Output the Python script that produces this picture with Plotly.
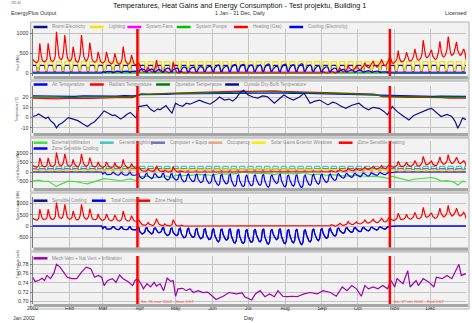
import pandas as pd
import plotly.graph_objects as go

W, H = 472, 323
FONT = "Liberation Sans, Arial, sans-serif"

# ---------------- data ----------------
dates = pd.date_range("2002-01-01", "2002-12-31", freq="D")
month_ticks = pd.date_range("2002-01-01", "2002-12-01", freq="MS")
month_labels = ["2002", "Feb", "Mar", "Apr", "May", "Jun", "Jul", "Aug", "Sep", "Oct", "Nov", "Dec"]

heating = [
    340,300,280,260,270,330,
    740,480,330,290,280,300,360, 740,500,340,300,290,330,420,
    1030,640,420,360,330,380,560, 950,600,400,330,300,310,380,
    660,440,320,280,270,330,480, 950,620,410,340,300,330,430,
    760,480,330,290,270,280,330, 530,380,290,260,250,270,320,
    530,370,280,250,230,250,300, 490,340,260,230,220,250,330,
    660,420,300,250,220,230,280, 450,310,240,210,200,220,260,
    180,100,60,40,30,40,80, 150,80,50,30,20,60,150,
    320,180,90,50,30,20,30, 90,40,20,10,10,20,60,
    280,150,60,20,10,0,10, 40,10,0,0,0,0,10,
    30,10,0,0,0,0,0,
    0,0,0,0,0,0,0, 0,0,0,0,0,0,0, 0,0,0,0,0,0,0,
    0,0,0,0,0,0,0, 0,0,0,0,0,0,0, 0,0,0,0,0,0,0,
    0,0,0,0,0,0,0, 0,0,0,0,0,0,0, 0,0,0,0,0,0,0,
    0,0,0,0,0,0,0, 0,0,0,0,0,0,0, 0,0,0,0,0,0,0,
    0,0,0,0,0,0,0, 0,0,0,0,0,0,0, 0,0,0,0,0,0,0,
    30,10,0,0,0,0,20, 60,30,10,0,10,30,60,
    120,70,40,30,40,60,100, 200,120,80,70,60,90,130,
    180,120,100,90,110,140,180, 260,180,140,130,150,190,230,
    300,210,170,150,160,200,260, 340,240,200,180,200,260,320,
    430,300,250,240,260,300,350, 560,380,300,280,290,320,380,
    520,380,320,300,310,350,420, 600,420,340,320,330,380,480,
    820,560,420,380,400,450,520, 580,420,360,340,350,420,560,
    790,560,440,400,420,480,600, 910,640,500,440,460,520,620,
    780,560,480,440,460,520,600,
    520,330,
]

total_cooling = [
    0,0,0,0,0,0,
    0,0,0,0,0,0,0, 0,0,0,0,0,0,0, 0,0,0,0,0,0,0, 0,0,0,0,0,0,0,
    0,0,0,0,0,0,0, 0,0,0,0,0,0,0, 0,0,0,0,0,0,0,
    0,0,0,0,-110,-40,-30,
    -120,-140,-150,-130,-120,-40,-30, -110,-130,-150,-160,-130,-50,-40,
    -130,-150,-170,-160,-140,-50,-40, -140,-160,-180,-170,-150,-60,-50,
    -250,-300,-350,-320,-280,-100,-80, -220,-280,-330,-350,-300,-110,-90,
    -200,-260,-300,-280,-250,-90,-70, -300,-380,-420,-400,-350,-120,-90,
    -280,-350,-400,-420,-380,-130,-100, -350,-450,-520,-500,-420,-140,-100,
    -320,-420,-480,-500,-450,-150,-110, -380,-500,-560,-540,-480,-160,-120,
    -400,-520,-600,-580,-500,-170,-120, -420,-560,-650,-700,-620,-180,-130,
    -380,-520,-600,-620,-560,-170,-120, -450,-600,-720,-750,-650,-200,-140,
    -480,-620,-740,-760,-680,-220,-150, -450,-600,-700,-720,-640,-200,-140,
    -400,-560,-660,-700,-620,-190,-130, -480,-640,-760,-800,-700,-220,-150,
    -350,-480,-560,-600,-540,-170,-120, -460,-620,-740,-780,-680,-210,-150,
    -420,-580,-700,-740,-650,-200,-140, -480,-640,-780,-820,-720,-220,-160,
    -400,-560,-660,-700,-620,-190,-130, -360,-500,-600,-640,-560,-170,-120,
    -320,-440,-520,-540,-480,-150,-100, -260,-360,-420,-440,-380,-120,-90,
    -200,-260,-300,-320,-280,-100,-80, -160,-220,-260,-280,-240,-90,-70,
    -150,-200,-240,-250,-220,-80,-60, -120,-170,-200,-210,-180,-70,-50,
    -100,-140,-170,-180,-150,-60,-40, -80,-110,-130,-140,-110,-40,-20,
    -30,-20,-10,0,0,0,0,
    0,0,0,0,0,0,0, 0,0,0,0,0,0,0, 0,0,0,0,0,0,0, 0,0,0,0,0,0,0,
    0,0,0,0,0,0,0, 0,0,0,0,0,0,0, 0,0,0,0,0,0,0, 0,0,0,0,0,0,0,
    0,0,
]

cooling_elec = [
    0,0,0,0,0,0,
    0,0,0,0,0,0,0, 0,0,0,0,0,0,0, 0,0,0,0,0,0,0, 0,0,0,0,0,0,0,
    0,0,0,0,0,0,0, 0,0,0,0,0,0,0, 0,0,0,0,0,0,0,
    0,0,0,0,30,10,10,
    35,40,45,40,35,10,10, 30,40,45,45,40,15,10,
    40,45,50,45,40,15,10, 40,45,50,50,45,20,15,
    70,85,100,90,80,30,20, 60,80,95,100,85,30,25,
    55,75,85,80,70,25,20, 85,110,120,115,100,35,25,
    80,100,115,120,110,35,30, 100,130,150,145,120,40,30,
    90,120,140,145,130,45,30, 110,145,160,155,140,45,35,
    115,150,170,165,145,50,35, 120,160,185,200,175,50,35,
    110,150,170,175,160,50,35, 130,170,205,215,185,55,40,
    135,175,210,215,195,60,45, 130,170,200,205,180,55,40,
    115,160,190,200,175,55,35, 135,180,215,225,200,60,45,
    100,135,160,170,155,50,35, 130,175,210,220,195,60,45,
    120,165,200,210,185,55,40, 135,180,220,230,205,60,45,
    115,160,190,200,175,55,35, 100,140,170,180,160,50,35,
    90,125,150,155,135,45,30, 75,100,120,125,110,35,25,
    55,75,85,90,80,30,25, 45,60,75,80,70,25,20,
    45,55,70,70,65,25,20, 35,50,55,60,50,20,15,
    30,40,50,50,45,15,10, 25,30,35,40,30,10,5,
    10,5,0,0,0,0,0,
    0,0,0,0,0,0,0, 0,0,0,0,0,0,0, 0,0,0,0,0,0,0, 0,0,0,0,0,0,0,
    0,0,0,0,0,0,0, 0,0,0,0,0,0,0, 0,0,0,0,0,0,0, 0,0,0,0,0,0,0,
    0,0,
]

room_electricity = [
    190,190,190,190,40,40,
    190,190,190,190,190,40,40, 190,190,190,190,190,40,40, 190,190,190,190,190,40,40, 190,190,190,190,190,40,40,
    190,190,190,190,190,40,40, 190,190,190,190,190,40,40, 190,190,190,190,190,40,40, 190,190,190,190,190,40,40,
    190,190,190,190,190,40,40, 190,190,190,190,190,40,40, 190,190,190,190,190,40,40, 190,190,190,190,190,40,40,
    190,190,190,190,190,40,40, 190,190,190,190,190,40,40, 190,190,190,190,190,40,40, 190,190,190,190,190,40,40,
    190,190,190,190,190,40,40, 190,190,190,190,190,40,40, 190,190,190,190,190,40,40, 190,190,190,190,190,40,40,
    190,190,190,190,190,40,40, 190,190,190,190,190,40,40, 190,190,190,190,190,40,40, 190,190,190,190,190,40,40,
    190,190,190,190,190,40,40, 190,190,190,190,190,40,40, 190,190,190,190,190,40,40, 190,190,190,190,190,40,40,
    190,190,190,190,190,40,40, 190,190,190,190,190,40,40, 190,190,190,190,190,40,40, 190,190,190,190,190,40,40,
    190,190,190,190,190,40,40, 190,190,190,190,190,40,40, 190,190,190,190,190,40,40, 190,190,190,190,190,40,40,
    190,190,190,190,190,40,40, 190,190,190,190,190,40,40, 190,190,190,190,190,40,40, 190,190,190,190,190,40,40,
    190,190,190,190,190,40,40, 190,190,190,190,190,40,40, 190,190,190,190,190,40,40, 190,190,190,190,190,40,40,
    190,190,190,190,190,40,40, 190,190,190,190,190,40,40, 190,190,190,190,190,40,40, 190,190,190,190,190,40,40,
    190,190,190,190,190,40,40, 190,190,190,190,190,40,40, 190,190,190,190,190,40,40,
    190,190,
]

lighting = [
    285,285,285,285,60,60,
    285,285,285,285,285,60,60, 285,285,285,285,285,60,60, 285,285,285,285,285,60,60, 285,285,285,285,285,60,60,
    285,285,285,285,285,60,60, 285,285,285,285,285,60,60, 285,285,285,285,285,60,60, 285,285,285,285,285,60,60,
    285,285,285,285,285,60,60, 285,285,285,285,285,60,60, 285,285,285,285,285,60,60, 285,285,285,285,285,60,60,
    285,285,285,285,285,60,60, 285,285,285,285,285,60,60, 285,285,285,285,285,60,60, 285,285,285,285,285,60,60,
    285,285,285,285,285,60,60, 285,285,285,285,285,60,60, 285,285,285,285,285,60,60, 285,285,285,285,285,60,60,
    285,285,285,285,285,60,60, 285,285,285,285,285,60,60, 285,285,285,285,285,60,60, 285,285,285,285,285,60,60,
    285,285,285,285,285,60,60, 285,285,285,285,285,60,60, 285,285,285,285,285,60,60, 285,285,285,285,285,60,60,
    285,285,285,285,285,60,60, 285,285,285,285,285,60,60, 285,285,285,285,285,60,60, 285,285,285,285,285,60,60,
    285,285,285,285,285,60,60, 285,285,285,285,285,60,60, 285,285,285,285,285,60,60, 285,285,285,285,285,60,60,
    285,285,285,285,285,60,60, 285,285,285,285,285,60,60, 285,285,285,285,285,60,60, 285,285,285,285,285,60,60,
    285,285,285,285,285,60,60, 285,285,285,285,285,60,60, 285,285,285,285,285,60,60, 285,285,285,285,285,60,60,
    285,285,285,285,285,60,60, 285,285,285,285,285,60,60, 285,285,285,285,285,60,60, 285,285,285,285,285,60,60,
    285,285,285,285,285,60,60, 285,285,285,285,285,60,60, 285,285,285,285,285,60,60,
    285,285,
]

general_lighting = [
    300,300,300,300,100,100,
    300,300,300,300,300,100,100, 300,300,300,300,300,100,100, 300,300,300,300,300,100,100, 300,300,300,300,300,100,100,
    300,300,300,300,300,100,100, 300,300,300,300,300,100,100, 300,300,300,300,300,100,100, 300,300,300,300,300,100,100,
    300,300,300,300,300,100,100, 300,300,300,300,300,100,100, 300,300,300,300,300,100,100, 300,300,300,300,300,100,100,
    300,300,300,300,300,100,100, 300,300,300,300,300,100,100, 300,300,300,300,300,100,100, 300,300,300,300,300,100,100,
    300,300,300,300,300,100,100, 300,300,300,300,300,100,100, 300,300,300,300,300,100,100, 300,300,300,300,300,100,100,
    300,300,300,300,300,100,100, 300,300,300,300,300,100,100, 300,300,300,300,300,100,100, 300,300,300,300,300,100,100,
    300,300,300,300,300,100,100, 300,300,300,300,300,100,100, 300,300,300,300,300,100,100, 300,300,300,300,300,100,100,
    300,300,300,300,300,100,100, 300,300,300,300,300,100,100, 300,300,300,300,300,100,100, 300,300,300,300,300,100,100,
    300,300,300,300,300,100,100, 300,300,300,300,300,100,100, 300,300,300,300,300,100,100, 300,300,300,300,300,100,100,
    300,300,300,300,300,100,100, 300,300,300,300,300,100,100, 300,300,300,300,300,100,100, 300,300,300,300,300,100,100,
    300,300,300,300,300,100,100, 300,300,300,300,300,100,100, 300,300,300,300,300,100,100, 300,300,300,300,300,100,100,
    300,300,300,300,300,100,100, 300,300,300,300,300,100,100, 300,300,300,300,300,100,100, 300,300,300,300,300,100,100,
    300,300,300,300,300,100,100, 300,300,300,300,300,100,100, 300,300,300,300,300,100,100,
    300,300,
]

computer_equip = [
    180,180,180,180,50,50,
    180,180,180,180,180,50,50, 180,180,180,180,180,50,50, 180,180,180,180,180,50,50, 180,180,180,180,180,50,50,
    180,180,180,180,180,50,50, 180,180,180,180,180,50,50, 180,180,180,180,180,50,50, 180,180,180,180,180,50,50,
    180,180,180,180,180,50,50, 180,180,180,180,180,50,50, 180,180,180,180,180,50,50, 180,180,180,180,180,50,50,
    180,180,180,180,180,50,50, 180,180,180,180,180,50,50, 180,180,180,180,180,50,50, 180,180,180,180,180,50,50,
    180,180,180,180,180,50,50, 180,180,180,180,180,50,50, 180,180,180,180,180,50,50, 180,180,180,180,180,50,50,
    180,180,180,180,180,50,50, 180,180,180,180,180,50,50, 180,180,180,180,180,50,50, 180,180,180,180,180,50,50,
    180,180,180,180,180,50,50, 180,180,180,180,180,50,50, 180,180,180,180,180,50,50, 180,180,180,180,180,50,50,
    180,180,180,180,180,50,50, 180,180,180,180,180,50,50, 180,180,180,180,180,50,50, 180,180,180,180,180,50,50,
    180,180,180,180,180,50,50, 180,180,180,180,180,50,50, 180,180,180,180,180,50,50, 180,180,180,180,180,50,50,
    180,180,180,180,180,50,50, 180,180,180,180,180,50,50, 180,180,180,180,180,50,50, 180,180,180,180,180,50,50,
    180,180,180,180,180,50,50, 180,180,180,180,180,50,50, 180,180,180,180,180,50,50, 180,180,180,180,180,50,50,
    180,180,180,180,180,50,50, 180,180,180,180,180,50,50, 180,180,180,180,180,50,50, 180,180,180,180,180,50,50,
    180,180,180,180,180,50,50, 180,180,180,180,180,50,50, 180,180,180,180,180,50,50,
    180,180,
]

occupancy = [
    110,110,110,110,0,0,
    110,110,110,110,110,0,0, 110,110,110,110,110,0,0, 110,110,110,110,110,0,0, 110,110,110,110,110,0,0,
    110,110,110,110,110,0,0, 110,110,110,110,110,0,0, 110,110,110,110,110,0,0, 110,110,110,110,110,0,0,
    110,110,110,110,110,0,0, 110,110,110,110,110,0,0, 110,110,110,110,110,0,0, 110,110,110,110,110,0,0,
    110,110,110,110,110,0,0, 110,110,110,110,110,0,0, 110,110,110,110,110,0,0, 110,110,110,110,110,0,0,
    110,110,110,110,110,0,0, 110,110,110,110,110,0,0, 110,110,110,110,110,0,0, 110,110,110,110,110,0,0,
    110,110,110,110,110,0,0, 110,110,110,110,110,0,0, 110,110,110,110,110,0,0, 110,110,110,110,110,0,0,
    110,110,110,110,110,0,0, 110,110,110,110,110,0,0, 110,110,110,110,110,0,0, 110,110,110,110,110,0,0,
    110,110,110,110,110,0,0, 110,110,110,110,110,0,0, 110,110,110,110,110,0,0, 110,110,110,110,110,0,0,
    110,110,110,110,110,0,0, 110,110,110,110,110,0,0, 110,110,110,110,110,0,0, 110,110,110,110,110,0,0,
    110,110,110,110,110,0,0, 110,110,110,110,110,0,0, 110,110,110,110,110,0,0, 110,110,110,110,110,0,0,
    110,110,110,110,110,0,0, 110,110,110,110,110,0,0, 110,110,110,110,110,0,0, 110,110,110,110,110,0,0,
    110,110,110,110,110,0,0, 110,110,110,110,110,0,0, 110,110,110,110,110,0,0, 110,110,110,110,110,0,0,
    110,110,110,110,110,0,0, 110,110,110,110,110,0,0, 110,110,110,110,110,0,0,
    110,110,
]

flat_days = [0, 364]
system_fans = [25, 25]
system_pumps = [3, 3]

solar_days = [0,15,31,45,59,74,90,105,120,135,151,166,181,196,212,227,243,258,273,288,304,319,334,349,364]
solar_gains = [60,70,90,100,120,130,140,150,160,160,170,170,170,170,160,150,140,120,110,90,70,60,50,50,55]

out_days = [0,3,5,8,11,13,15,18,20,22,25,28,30,34,38,42,46,49,52,56,
            60,64,67,69,72,74,77,79,82,85,87,89,92,96,99,102,105,107,110,112,
            115,117,120,123,126,129,132,136,140,144,149,153,157,161,165,168,171,174,177,181,
            185,189,193,197,200,203,207,211,215,219,224,228,233,237,241,245,248,252,255,259,
            263,268,274,278,282,286,291,295,298,302,306,310,313,316,320,324,328,332,335,339,
            343,348,352,355,357,359,361,364]
outside_temp = [1,2,3.5,1,-1,0.5,-3,-6,-10,-7,-5,-2,0,-1.5,-3,-6,-8.7,-6,-4,1,
                6.5,4,2,2.5,0,-1.5,1,3,5,1.5,-0.6,10.7,11,12,8,5.8,8.5,7.5,10,11.7,
                7,4.3,14,12,11,14,13,15,17,15,13,16,20,17,18,16,19,24,26.5,22,
                20,19,21,20.4,17,14,18,22,19,17,20,23.6,14,16,17,14,12.3,15,14,11,
                9,12,14,10,7.5,10,9,6,2.6,10.7,6,2.6,0,-2.3,2,4.2,6,8,9,5,
                1,3,1,-4,-10.3,-6,-0.5,-2]
infiltration = [-480,-460,-430,-470,-500,-480,-560,-650,-770,-680,-600,-520,-480,-500,-520,-580,-620,-560,-520,-430,
                -350,-380,-400,-400,-440,-460,-420,-400,-360,-420,-450,-250,-240,-220,-280,-300,-260,-270,-240,-210,
                -270,-300,-160,-190,-200,-170,-180,-150,-120,-140,-170,-130,-80,-110,-100,-120,-90,-30,0,-50,
                -70,-80,-60,-70,-100,-140,-90,-50,-80,-100,-70,-40,-140,-120,-110,-150,-170,-140,-150,-190,
                -220,-180,-160,-210,-250,-220,-240,-280,-340,-230,-300,-350,-390,-450,-380,-350,-330,-300,-290,-350,
                -480,-450,-500,-580,-700,-600,-480,-520]

temp_days = [0,7,14,21,28,35,42,49,56,63,70,77,84,91,98,105,112,119,126,133,140,147,154,161,168,
             175,182,189,196,203,210,217,224,231,238,245,252,259,266,273,280,287,294,301,308,315,322,329,
             336,343,350,357,364]
air_temp = [21.2,21.0,20.8,20.6,21.0,20.7,21.1,20.9,21.0,21.2,20.9,21.3,21.1,
            22.4,22.2,22.6,22.5,22.9,23.0,23.2,23.1,23.4,23.6,23.5,23.9,
            24.1,23.8,24.0,23.7,24.2,23.9,23.6,23.8,23.4,23.2,23.0,22.9,22.7,
            22.5,22.4,22.2,22.0,21.5,21.2,21.0,20.9,21.1,20.8,20.7,20.9,20.6,20.8,20.7]
radiant_temp = [19.0,18.7,18.4,18.2,18.8,18.5,18.9,18.6,19.0,19.3,19.1,19.5,19.4,
                23.0,22.8,23.3,23.2,23.8,24.0,24.3,24.2,24.6,24.9,24.8,25.3,
                25.8,25.4,25.7,25.3,26.0,25.6,25.2,25.4,24.9,24.6,24.3,24.1,23.8,
                23.5,23.3,23.0,22.8,20.4,20.0,19.8,19.7,19.8,19.4,19.2,19.3,19.0,19.1,18.9]
operative_temp = [20.1,19.9,19.6,19.4,19.9,19.6,20.0,19.8,20.0,20.3,20.0,20.4,20.3,
                  22.7,22.5,23.0,22.9,23.4,23.5,23.8,23.7,24.0,24.3,24.2,24.6,
                  25.0,24.6,24.9,24.5,25.1,24.8,24.4,24.6,24.2,23.9,23.7,23.5,23.3,
                  23.0,22.9,22.6,22.4,20.9,20.6,20.4,20.3,20.5,20.1,19.9,20.1,19.8,20.0,19.8]

air_days = [0,2,5,8,10,12,15,18,20,23,26,29,33,37,41,45,49,52,55,58,
            60,63,67,70,73,76,80,84,86,88,91,93,96,99,102,104,107,110,113,116,
            118,120,122,126,129,132,135,139,143,147,151,154,160,165,171,176,178,184,187,191,
            195,199,203,206,210,214,218,222,228,233,239,244,250,255,260,264,268,272,276,279,
            282,286,290,294,298,301,304,306,311,315,317,322,324,328,333,337,339,344,348,352,
            356,358,360,364]
fresh_air = [0.752,0.743,0.745,0.750,0.745,0.756,0.749,0.762,0.780,0.774,0.763,0.752,0.749,0.749,0.763,0.774,0.770,0.752,0.756,0.752,
             0.734,0.745,0.749,0.741,0.757,0.749,0.743,0.734,0.745,0.749,0.738,0.727,0.738,0.731,0.741,0.733,0.738,0.723,0.750,0.743,
             0.745,0.711,0.727,0.728,0.723,0.727,0.719,0.723,0.719,0.720,0.711,0.704,0.711,0.719,0.716,0.718,0.710,0.703,0.716,0.723,
             0.710,0.716,0.710,0.723,0.711,0.710,0.711,0.710,0.716,0.719,0.716,0.723,0.719,0.711,0.731,0.723,0.734,0.727,0.711,0.734,
             0.727,0.731,0.727,0.734,0.727,0.745,0.731,0.749,0.738,0.766,0.731,0.745,0.734,0.749,0.741,0.731,0.752,0.749,0.756,0.749,
             0.770,0.780,0.756,0.760]

for arr in (heating, total_cooling, cooling_elec, room_electricity, lighting, general_lighting, computer_equip, occupancy):
    assert len(arr) == 365, len(arr)
assert len(out_days) == len(outside_temp) == len(infiltration)
assert len(temp_days) == len(air_temp) == len(radiant_temp) == len(operative_temp)
assert len(air_days) == len(fresh_air)

start = pd.Timestamp("2002-01-01")
def to_dates(days):
    return [start + pd.Timedelta(days=int(d)) for d in days]

dst_dates = ["2002-03-30", "2002-10-28"]
dst_labels = ["Sö, 31 mar 2002 - Start DST", "Sö, 27 okt 2002 - End DST"]

# ---------------- layout geometry (pixels) ----------------
panels = [
    dict(top=29, bot=76, rng=[-75, 1100], tv=[0, 500, 1000], tt=["0", "500", "1000"],
         title="Fuel (kWh)", frame=(22, 80)),
    dict(top=86, bot=133, rng=[-15, 30.7], tv=[-10, 0, 10, 20], tt=["-10", "0", "10", "20"],
         title="Temperature (°C)", frame=(81, 137)),
    dict(top=141, bot=188, rng=[-842, 1632], tv=[-500, 0, 500, 1000], tt=["-500", "0", "500", "1000"],
         title="Heat Balance (kWh)", frame=(138, 192)),
    dict(top=197, bot=247.5, rng=[-947, 1278], tv=[-500, 0, 500, 1000], tt=["-500", "0", "500", "1000"],
         title="System Loads (kWh)", frame=(193, 251)),
    dict(top=256, bot=304, rng=[0.6942, 0.798], tv=[0.70, 0.72, 0.74, 0.76, 0.78],
         tt=["0,70", "0,72", "0,74", "0,76", "0,78"], title="Total fresh air (ac/h)", frame=(252, 309)),
]

X0, X1 = 27, 466
fig = go.Figure()

def ax(i):
    return ("x", "y") if i == 1 else (f"x{i}", f"y{i}")

def add(i, x, y, color, width=1.2):
    xa, ya = ax(i)
    fig.add_trace(go.Scatter(x=x, y=y, mode="lines", line=dict(color=color, width=width),
                             xaxis=xa, yaxis=ya, showlegend=False, hoverinfo="skip"))

NAVY, RED, BLUE = "#10108a", "#ff0000", "#0000ff"

# panel 1
add(1, dates, room_electricity, NAVY)
add(1, dates, lighting, "#f2e600")
add(1, to_dates(flat_days), system_fans, "#ff00ff")
add(1, to_dates(flat_days), system_pumps, "#00c000")
add(1, dates, heating, RED)
add(1, dates, cooling_elec, BLUE)
# panel 2
add(2, to_dates(temp_days), air_temp, BLUE)
add(2, to_dates(temp_days), radiant_temp, RED)
add(2, to_dates(temp_days), operative_temp, "#008000")
add(2, to_dates(out_days), outside_temp, NAVY)
# panel 3
add(3, to_dates(out_days), infiltration, "#40e040")
add(3, dates, general_lighting, "#40c8c8")
add(3, dates, computer_equip, "#7070b8")
add(3, dates, occupancy, "#e0a884")
add(3, to_dates(solar_days), solar_gains, "#f2f000")
add(3, dates, heating, RED)
add(3, dates, total_cooling, BLUE)
# panel 4
add(4, dates, total_cooling, NAVY)
add(4, dates, total_cooling, BLUE)
add(4, dates, heating, RED)
# panel 5
add(5, to_dates(air_days), fresh_air, "#a000b0")

shapes, annotations = [], []
layout = dict(
    width=W, height=H, margin=dict(l=0, r=0, t=0, b=0),
    paper_bgcolor="white", plot_bgcolor="#eeeeee",
    font=dict(family=FONT, size=5.4, color="#333333"),
)

for k, p in enumerate(panels, start=1):
    xa = "xaxis" if k == 1 else f"xaxis{k}"
    ya = "yaxis" if k == 1 else f"yaxis{k}"
    xr, yr = ax(k)
    layout[xa] = dict(domain=[X0 / W, X1 / W], type="date", range=["2002-01-01", "2002-12-31"],
                      anchor=yr, tickvals=list(month_ticks), ticktext=month_labels,
                      showticklabels=(k == 5), showgrid=True, gridcolor="#c4c4c4", gridwidth=1,
                      zeroline=False, showline=False, ticks="",
                      tickfont=dict(size=5.2, color="#333333"), fixedrange=True)
    layout[ya] = dict(domain=[1 - p["bot"] / H, 1 - p["top"] / H], range=p["rng"], anchor=xr,
                      tickvals=p["tv"], ticktext=p["tt"], showgrid=True, gridcolor="#c4c4c4",
                      zeroline=False, showline=True, linecolor="#7a7a7a", linewidth=1,
                      ticks="outside", ticklen=2, tickcolor="#7a7a7a",
                      tickfont=dict(size=5.4, color="#333333"), fixedrange=True)
    shapes.append(dict(type="rect", xref="paper", yref="paper", layer="below",
                       x0=25 / W, x1=469 / W, y0=1 - p["frame"][1] / H, y1=1 - p["frame"][0] / H,
                       fillcolor="#f2f2f2", line=dict(color="#b0b0b0", width=1)))
    shapes.append(dict(type="rect", xref="paper", yref="paper", layer="above",
                       x0=28 / W, x1=468 / W, y0=1 - (p["bot"] + 3) / H, y1=1 - p["bot"] / H,
                       fillcolor="#a6a6a6", line=dict(width=0)))
    for d in dst_dates:
        shapes.append(dict(type="line", xref=xr, yref=f"{yr} domain", x0=d, x1=d, y0=0, y1=1,
                           line=dict(color="#ff0000", width=2.5), layer="above"))
    annotations.append(dict(x=8 / W, y=1 - (p["top"] + p["bot"]) / 2 / H, xref="paper", yref="paper",
                            text=p["title"], textangle=-90, showarrow=False,
                            font=dict(size=3.2, color="#333333")))

legend_rows = [
    (27, [(28, "Room Electricity", NAVY), (85, "Lighting", "#f2e600"), (123, "System Fans", "#ff00ff"),
          (173, "System Pumps", "#00c000"), (231, "Heating (Gas)", RED), (287, "Cooling (Electricity)", BLUE)]),
    (84.5, [(28, "Air Temperature", BLUE), (85, "Radiant Temperature", RED),
            (152, "Operative Temperature", "#008000"), (222, "Outside Dry-Bulb Temperature", NAVY)]),
    (142.7, [(28, "External Infiltration", "#40e040"), (95, "General Lighting", "#40c8c8"),
             (147, "Computer + Equip", "#7070b8"), (205, "Occupancy", "#e0a884"),
             (249, "Solar Gains Exterior Windows", "#f2f000"), (337, "Zone Sensible Heating", RED)]),
    (148.5, [(28, "Zone Sensible Cooling", BLUE)]),
    (200.7, [(28, "Sensible Cooling", NAVY), (87, "Total Cooling", BLUE), (132, "Zone Heating", RED)]),
    (258.3, [(28, "Mech Vent + Nat Vent + Infiltration", "#a000b0")]),
]
for ypx, entries in legend_rows:
    for sx, name, color in entries:
        shapes.append(dict(type="line", xref="paper", yref="paper", x0=sx / W, x1=(sx + 14) / W,
                           y0=1 - ypx / H, y1=1 - ypx / H, line=dict(color=color, width=2.5)))
        annotations.append(dict(x=(sx + 17) / W, y=1 - ypx / H, xref="paper", yref="paper",
                                text=name, showarrow=False, xanchor="left", yanchor="middle",
                                font=dict(size=4.6, color="#8a8a8a")))

for d, lab in zip(dst_dates, dst_labels):
    annotations.append(dict(x=d, y=0.05, xref="x5", yref="y5 domain", text=lab, showarrow=False,
                            xanchor="left", yanchor="middle", xshift=2,
                            font=dict(size=4.2, color="#ff5050")))

annotations += [
    dict(x=3 / W, y=1 - 3 / H, xref="paper", yref="paper", text="192.40", showarrow=False,
         xanchor="left", yanchor="middle", font=dict(size=3.2, color="#555555")),
    dict(x=236 / W, y=1 - 6 / H, xref="paper", yref="paper",
         text="Temperatures, Heat Gains and Energy Consumption - Test projektu, Building 1",
         showarrow=False, xanchor="center", yanchor="middle", font=dict(size=7.3, color="#111111")),
    dict(x=3 / W, y=1 - 13 / H, xref="paper", yref="paper", text="EnergyPlus Output", showarrow=False,
         xanchor="left", yanchor="middle", font=dict(size=5.4, color="#333333")),
    dict(x=237 / W, y=1 - 13 / H, xref="paper", yref="paper", text="1 Jan - 31 Dec, Daily", showarrow=False,
         xanchor="center", yanchor="middle", font=dict(size=5.4, color="#333333")),
    dict(x=469 / W, y=1 - 13 / H, xref="paper", yref="paper", text="Licensed", showarrow=False,
         xanchor="right", yanchor="middle", font=dict(size=5.4, color="#333333")),
    dict(x=18 / W, y=1 - 318 / H, xref="paper", yref="paper", text="Jan 2002", showarrow=False,
         xanchor="center", yanchor="middle", font=dict(size=5.3, color="#333333")),
    dict(x=246 / W, y=1 - 318 / H, xref="paper", yref="paper", text="Day", showarrow=False,
         xanchor="center", yanchor="middle", font=dict(size=5.5, color="#333333")),
]

layout["shapes"] = shapes
layout["annotations"] = annotations
fig.update_layout(**layout)
fig.write_html("out.html", include_plotlyjs=True, config={"displayModeBar": False, "staticPlot": True})
